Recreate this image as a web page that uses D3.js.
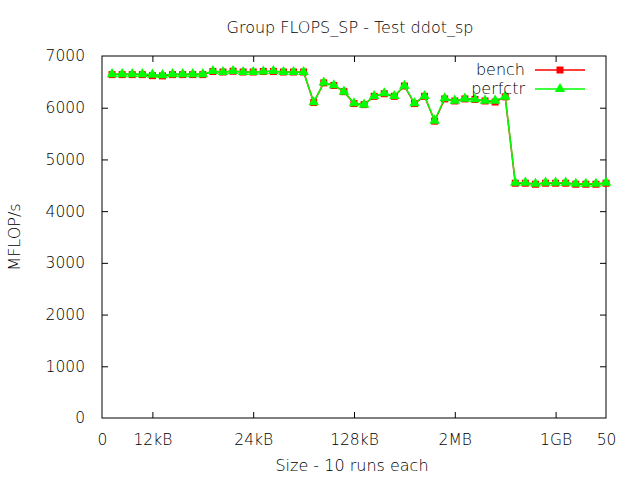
<!DOCTYPE html>
<html><head><meta charset="utf-8">
<script src="https://cdn.jsdelivr.net/npm/d3@7"></script>
<style>body{margin:0;background:#fff}svg{display:block}text{font-family:"DejaVu Sans ExtraLight","DejaVu Sans",sans-serif;font-weight:200;font-size:16px;fill:#000}</style>
</head><body><svg id="c" width="640" height="480"></svg>
<script>
const title = "Group FLOPS_SP - Test ddot_sp";
const xLabel = "Size - 10 runs each";
const yLabel = "MFLOP/s";
const xTickValues = [0, 5, 15, 25, 35, 45, 50];
const xTickLabels = ["0", "12kB", "24kB", "128kB", "2MB", "1GB", "50"];
const yTickValues = [0, 1000, 2000, 3000, 4000, 5000, 6000, 7000];
const xs = d3.range(1, 51);
const bench = [6640,6640,6640,6640,6620,6615,6640,6640,6640,6640,
               6700,6690,6705,6690,6690,6700,6700,6690,6690,6690,
               6100,6480,6430,6310,6080,6060,6220,6270,6220,6420,
               6080,6220,5740,6170,6130,6170,6160,6130,6110,6210,
               4540,4540,4520,4540,4540,4540,4520,4520,4520,4540];
const perfctr = [6650,6650,6650,6650,6640,6630,6650,6650,6650,6650,
                 6710,6690,6710,6690,6690,6700,6710,6690,6690,6690,
                 6106,6486,6434,6311,6086,6060,6227,6280,6227,6425,
                 6086,6227,5750,6183,6137,6176,6163,6137,6137,6215,
                 4550,4550,4530,4550,4550,4550,4530,4530,4530,4550];
const series = [{name:"bench", values:bench, color:"#ff0000", marker:"square"},
                {name:"perfctr", values:perfctr, color:"#00ff00", marker:"triangle"}];

const svg = d3.select("#c");
const L=102, R=606, T=56, B=418;
const x = d3.scaleLinear().domain([0,50]).range([L,R]);
const y = d3.scaleLinear().domain([0,7000]).range([B,T]);

svg.append("rect").attr("width",640).attr("height",480).attr("fill","#fff");

const tl = 6;
const g = svg.append("g");
const xb = g.append("g").attr("transform",`translate(0,${B})`)
  .call(d3.axisBottom(x).tickValues(xTickValues).tickFormat((d,i)=>xTickLabels[i]).tickSizeInner(-tl).tickSizeOuter(0).tickPadding(tl+10));
const xt = g.append("g").attr("transform",`translate(0,${T})`)
  .call(d3.axisTop(x).tickValues(xTickValues).tickFormat("").tickSizeInner(-tl).tickSizeOuter(0));
const yl = g.append("g").attr("transform",`translate(${L},0)`)
  .call(d3.axisLeft(y).tickValues(yTickValues).tickFormat(d3.format("d")).tickSizeInner(-tl).tickSizeOuter(0).tickPadding(tl+11));
const yr = g.append("g").attr("transform",`translate(${R},0)`)
  .call(d3.axisRight(y).tickValues(yTickValues).tickFormat("").tickSizeInner(-tl).tickSizeOuter(0));
g.selectAll(".domain").remove();
g.selectAll("text").style("font-family","'DejaVu Sans ExtraLight','DejaVu Sans',sans-serif").style("font-weight","200").style("font-size","15.5px").attr("fill","#000");
g.selectAll(".tick line").attr("stroke","#000");
xb.selectAll(".tick").filter(d=>d===0||d===50).select("line").remove();
xt.selectAll(".tick").filter(d=>d===0||d===50).select("line").remove();
yl.selectAll(".tick").filter(d=>d===0||d===7000).select("line").remove();
yr.selectAll(".tick").filter(d=>d===0||d===7000).select("line").remove();
svg.append("rect").attr("x",L).attr("y",T).attr("width",R-L).attr("height",B-T)
  .attr("fill","none").attr("stroke","#000").attr("stroke-width",1);

svg.append("text").attr("x",350).attr("y",33).attr("text-anchor","middle").text(title);
svg.append("text").attr("x",352).attr("y",471).attr("text-anchor","middle").text(xLabel);
svg.append("text").attr("transform","translate(20,237) rotate(-90)").attr("text-anchor","middle").text(yLabel);

const line = d3.line().x((d,i)=>x(xs[i])).y(d=>y(d));
function marker(sel, type, color){
  if(type==="square"){
    sel.append("rect").attr("x",-3.5).attr("y",-3.5).attr("width",7).attr("height",7).attr("fill",color);
  } else {
    sel.append("path").attr("d",d3.symbol(d3.symbolTriangle,48)()).attr("fill",color);
  }
}
series.forEach(s=>{
  svg.append("path").datum(s.values).attr("d",line).attr("fill","none").attr("stroke",s.color).attr("stroke-width",1.5);
  svg.append("g").selectAll("g").data(s.values).join("g")
    .attr("transform",(d,i)=>`translate(${x(xs[i])},${y(d)})`)
    .each(function(){ marker(d3.select(this), s.marker, s.color); });
});

series.forEach((s,i)=>{
  const ly = 70 + i*19;
  svg.append("text").attr("x",525).attr("y",ly+5).attr("text-anchor","end").text(s.name);
  svg.append("line").attr("x1",535).attr("x2",585).attr("y1",ly).attr("y2",ly).attr("stroke",s.color).attr("stroke-width",1.5);
  const m = svg.append("g").attr("transform",`translate(560,${ly})`);
  marker(m, s.marker, s.color);
});
</script></body></html>
